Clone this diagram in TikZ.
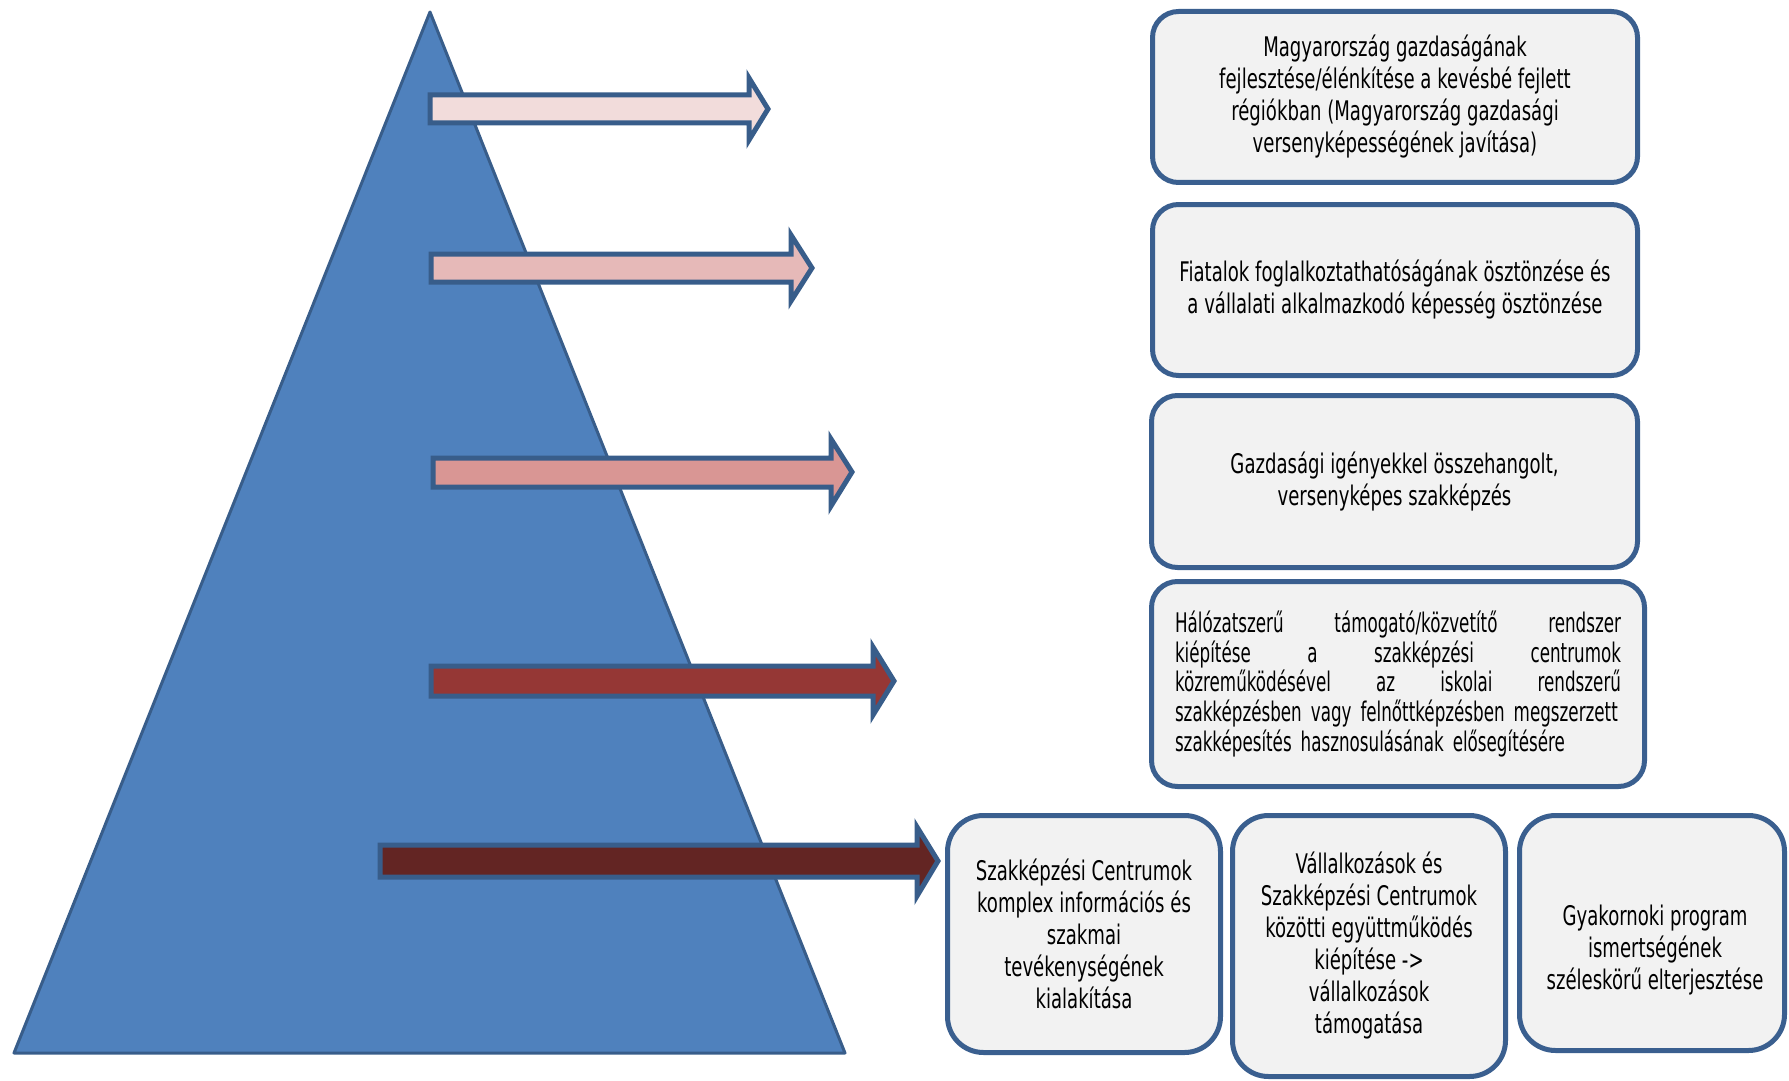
\documentclass[tikz,border=0pt]{standalone}
\usepackage{fontspec}
\setmainfont{DejaVu Sans}[FakeStretch=0.67]
\newfontfamily\narrowfont{DejaVu Sans}[FakeStretch=0.62]
\definecolor{triFill}{HTML}{4F81BD}
\definecolor{triLine}{HTML}{385D8A}
\definecolor{boxLine}{HTML}{3A5F8F}
\definecolor{boxFill}{HTML}{F2F2F2}
\definecolor{aone}{HTML}{F2DCDB}
\definecolor{atwo}{HTML}{E6B9B8}
\definecolor{athree}{HTML}{D99694}
\definecolor{afour}{HTML}{953735}
\definecolor{afive}{HTML}{632523}
\begin{document}
\begin{tikzpicture}[x=0.5pt,y=-0.5pt,
  tri/.style={fill=triFill,draw=triLine,line width=1.5pt,line join=round},
  blockarr/.style={draw=triLine,line width=2.5pt,line join=miter},
  box/.style={draw=boxLine,fill=boxFill,line width=2.5pt,rounded corners=13pt,
    inner sep=0pt,align=center,font=\fontsize{13.5pt}{16pt}\selectfont},
  sbox/.style={box,rounded corners=18pt},
  lbl/.style={inner sep=0pt,align=center,font=\fontsize{13.5pt}{16pt}\selectfont}
]
\useasboundingbox (0,0) rectangle (1789,1081);
% pyramid
\draw[tri] (430,12) -- (845,1053) -- (14,1053) -- cycle;
% arrows
\draw[blockarr,fill=aone]   (430,95)  -- (749,95)  -- (749,78)  -- (768,109) -- (749,140) -- (749,123) -- (430,123) -- cycle;
\draw[blockarr,fill=atwo]   (431,254) -- (791,254) -- (791,235) -- (812,268) -- (791,301) -- (791,282) -- (431,282) -- cycle;
\draw[blockarr,fill=athree] (433,458) -- (831,458) -- (831,439) -- (852,472) -- (831,506) -- (831,487) -- (433,487) -- cycle;
\draw[blockarr,fill=afour]  (431,666) -- (873,666) -- (873,647) -- (894,681) -- (873,715) -- (873,696) -- (431,696) -- cycle;
\draw[blockarr,fill=afive]  (380,845) -- (917,845) -- (917,827) -- (938,861) -- (917,896) -- (917,877) -- (380,877) -- cycle;
% boxes
\node[box,minimum width=242.5pt,minimum height=85.5pt] (b1) at (1395,97)
  {Magyarország gazdaságának\\fejlesztése/élénkítése a kevésbé fejlett\\régiókban (Magyarország gazdasági\\versenyképességének javítása)};
\node[box,minimum width=242.5pt,minimum height=85.5pt] (b2) at (1395,290)
  {Fiatalok foglalkoztathatóságának ösztönzése és\\a vállalati alkalmazkodó képesség ösztönzése};
\node[box,minimum width=243pt,minimum height=86pt] (b3) at (1394.5,481.5)
  {Gazdasági igényekkel összehangolt,\\versenyképes szakképzés};
\node[box,minimum width=246.5pt,minimum height=102.5pt,text width=223pt,align=left,
  font=\narrowfont\fontsize{13.5pt}{14.9pt}\selectfont] (b4) at (1398,684)
  {\makebox[\linewidth][s]{Hálózatszerű\hfill támogató/közvetítő\hfill rendszer}\\
   \makebox[\linewidth][s]{kiépítése\hfill a\hfill szakképzési\hfill centrumok}\\
   \makebox[\linewidth][s]{közreműködésével\hfill az\hfill iskolai\hfill rendszerű}\\
   \makebox[\linewidth][s]{szakképzésben vagy felnőttképzésben megszerzett}\\
   szakképesítés hasznosulásának elősegítésére};
\node[sbox,minimum width=136.5pt,minimum height=118.5pt] (b5) at (1084,934)
  {Szakképzési Centrumok\\komplex információs és\\szakmai\\tevékenységének\\kialakítása};
\node[sbox,minimum width=136.5pt,minimum height=130.5pt] (b6) at (1369,946)
  {Vállalkozások és\\Szakképzési Centrumok\\közötti együttműködés\\kiépítése ->\\vállalkozások\\támogatása};
\node[sbox,minimum width=132.5pt,minimum height=117.5pt] (b7) at (1652,933) {};
\node[lbl] (t7) at (1655,950) {Gyakornoki program\\ismertségének\\széleskörű elterjesztése};
\end{tikzpicture}
\end{document}
